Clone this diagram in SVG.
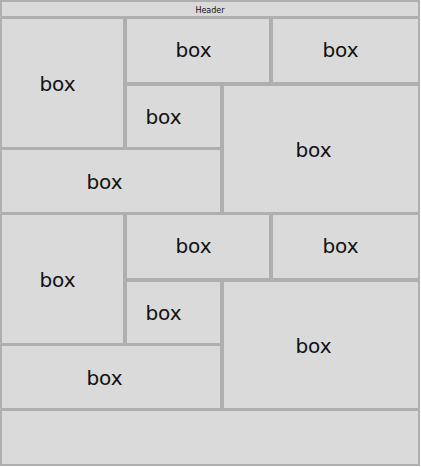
<svg xmlns="http://www.w3.org/2000/svg" width="421" height="467" viewBox="0 0 421 467">
<style>
.b{fill:#dadada;stroke:#afafaf;stroke-width:2}
.t{font-family:"DejaVu Sans",sans-serif;font-size:20px;fill:#111;text-anchor:middle}
.h{font-family:"DejaVu Sans",sans-serif;font-size:8px;fill:#111;text-anchor:middle}
</style>
<rect x="0" y="0" width="421" height="467" fill="#ffffff"/>
<g id="header"><rect class="b" x="1" y="1" width="418" height="16"/><text class="h" x="210" y="13">Header</text></g>
<g id="s1a"><rect class="b" x="1" y="18" width="123" height="130"/><text class="t" x="57.5" y="91">box</text></g>
<g id="s1b"><rect class="b" x="126" y="18" width="144" height="65"/><text class="t" x="193.5" y="57">box</text></g>
<g id="s1c"><rect class="b" x="272" y="18" width="147" height="65"/><text class="t" x="340.5" y="57">box</text></g>
<g id="s1d"><rect class="b" x="126" y="85" width="95" height="63"/><text class="t" x="163.5" y="124">box</text></g>
<g id="s1e"><rect class="b" x="223" y="85" width="196" height="128"/><text class="t" x="313.5" y="157">box</text></g>
<g id="s1f"><rect class="b" x="1" y="149" width="220" height="64"/><text class="t" x="104.5" y="189">box</text></g>
<g id="s2a"><rect class="b" x="1" y="214" width="123" height="130"/><text class="t" x="57.5" y="287">box</text></g>
<g id="s2b"><rect class="b" x="126" y="214" width="144" height="65"/><text class="t" x="193.5" y="253">box</text></g>
<g id="s2c"><rect class="b" x="272" y="214" width="147" height="65"/><text class="t" x="340.5" y="253">box</text></g>
<g id="s2d"><rect class="b" x="126" y="281" width="95" height="63"/><text class="t" x="163.5" y="320">box</text></g>
<g id="s2e"><rect class="b" x="223" y="281" width="196" height="128"/><text class="t" x="313.5" y="353">box</text></g>
<g id="s2f"><rect class="b" x="1" y="345" width="220" height="64"/><text class="t" x="104.5" y="385">box</text></g>
<g id="footer"><rect class="b" x="1" y="410" width="418" height="55"/></g>
<g id="connectors"></g>
</svg>
